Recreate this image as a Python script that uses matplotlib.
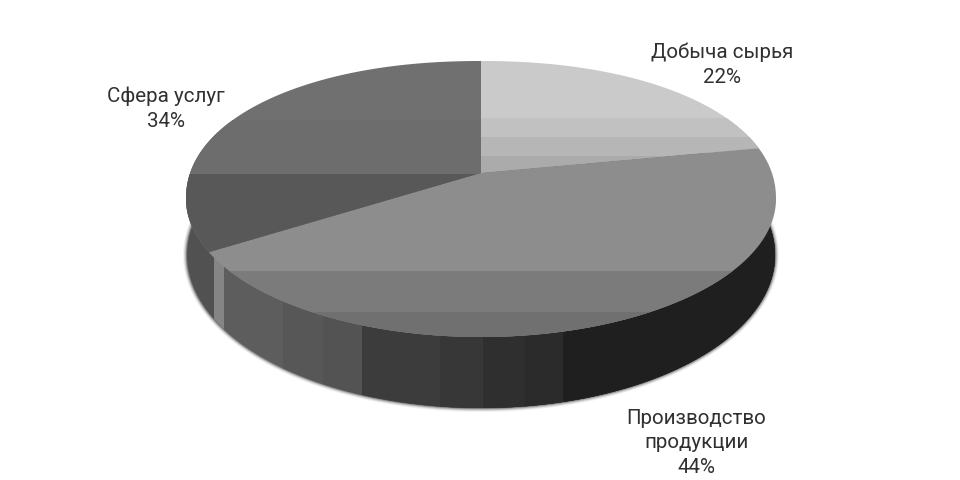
import numpy as np
import matplotlib
matplotlib.use("Agg")
import matplotlib.pyplot as plt
from matplotlib.path import Path
from matplotlib.patches import PathPatch
from matplotlib.transforms import Bbox

categories = ["Добыча сырья", "Производство\nпродукции", "Сфера услуг"]
shares = [22, 44, 34]

# label centres, pixels
label_pos = [(722, 65), (696, 443), (166, 109)]

# top surface geometry (pixels), tilt moves the pie centre up like the perspective view
CX, CY, RX, RY = 481, 199, 295, 138
TILT = 0.19
# the far half of the pie is a bit fuller than a true ellipse
FAR_POWER = 2.12
# bottom rim of the side wall
BOT_CY, BOT_RX, BOT_RY = 255, 294, 153

# horizontal shading of each slice: (band start y, colour)
top_bands = [
    [(0, "#cacaca"), (118, "#c1c1c1"), (137, "#b6b6b6"), (156, "#ababab")],
    [(0, "#8d8d8d"), (271, "#7b7b7b"), (312, "#707070")],
    [(0, "#707070"), (120, "#6d6d6d"), (174, "#585858")],
]
# vertical shading of the side wall: (band start x, colour)
wall_bands = [(0, "#515151"), (214, "#858585"), (224, "#5d5d5d"), (283, "#575757"),
              (323, "#535353"), (362, "#3c3c3c"), (440, "#373737"), (483, "#2f2f2f"),
              (525, "#2b2b2b"), (563, "#1f1f1f")]


def project(theta):
    # unit circle to the tilted rim
    x, y = np.cos(theta), np.sin(theta)
    d = 1 + TILT * y
    yp = (y + TILT) / d
    xp = x * np.sqrt(1 - TILT ** 2) / d
    norm = (np.abs(xp) ** FAR_POWER + np.abs(yp) ** FAR_POWER) ** (1 / FAR_POWER)
    far = yp > 0
    xp = np.where(far, xp / norm, xp)
    yp = np.where(far, yp / norm, yp)
    return CX + RX * xp, CY - RY * yp


def draw_bands(ax, path, bands, axis):
    # each band runs to the far end, the next one paints over it, so no seams show
    for start, colour in bands:
        if axis == "y":
            box = Bbox([[0, start], [960, 480]])
        else:
            box = Bbox([[start, 0], [960, 480]])
        part = path.clip_to_bbox(box)
        ax.add_patch(PathPatch(part, facecolor=colour, edgecolor="none", lw=0))


def closed_path(xs, ys):
    return Path(np.column_stack([np.append(xs, xs[0]), np.append(ys, ys[0])]), closed=True)


fig = plt.figure(figsize=(9.6, 4.8), dpi=100, facecolor="white")
ax = fig.add_axes([0, 0, 1, 1])
ax.set_xlim(0, 960)
ax.set_ylim(480, 0)
ax.axis("off")

t = np.linspace(0, 2 * np.pi, 720, endpoint=False)

# soft shadow along the wall
for k, a in zip([4, 3, 2, 1], [0.06, 0.12, 0.2, 0.35]):
    ax.fill(CX + (BOT_RX + k) * np.cos(t), BOT_CY + (BOT_RY + k) * np.sin(t),
            color="#222222", alpha=a, lw=0)

# side wall
wall = closed_path(CX + BOT_RX * np.cos(t), BOT_CY + BOT_RY * np.sin(t))
draw_bands(ax, wall, wall_bands, "x")

# slices, clockwise from 12 o'clock
edges = np.cumsum([0] + shares) / sum(shares)
apex_y = CY - RY * TILT
for i, bands in enumerate(top_bands):
    a = np.pi / 2 - 2 * np.pi * np.linspace(edges[i], edges[i + 1], 300)
    xs, ys = project(a)
    path = closed_path(np.append(xs, CX), np.append(ys, apex_y))
    draw_bands(ax, path, bands, "y")

for name, share, (lx, ly) in zip(categories, shares, label_pos):
    ax.text(lx, ly, f"{name}\n{share}%", ha="center", va="center", fontsize=14.8,
            family="Roboto", color="#303030", linespacing=1.39)

fig.savefig("out.png", dpi=100, facecolor="white")
